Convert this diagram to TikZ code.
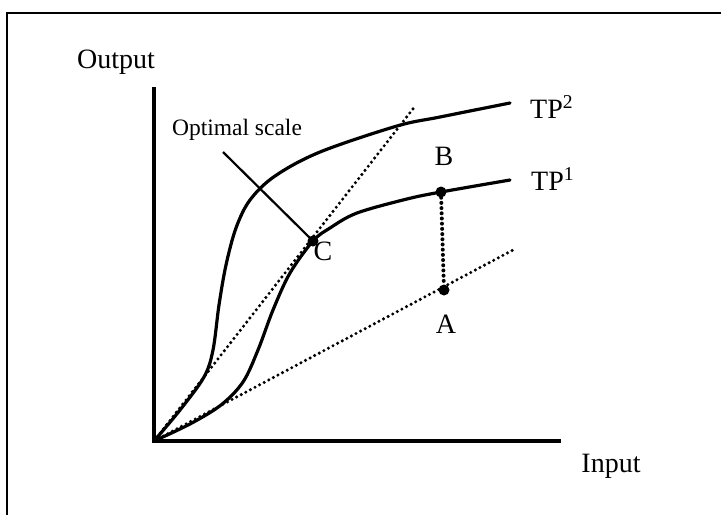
\documentclass[tikz,border=0pt]{standalone}
\usepackage{fontspec}
\setmainfont{Liberation Serif}
\begin{document}
\begin{tikzpicture}[x=1pt,y=-1pt,
  curve/.style={line width=3.2pt, line join=round, line cap=round},
  axisline/.style={line width=3.4pt},
  dots/.style={line width=3.4pt, line cap=round, dash pattern=on 0pt off 5.2pt},
  heavydots/.style={line width=4pt, line cap=round, dash pattern=on 0pt off 5.2pt},
  lbl/.style={font=\fontsize{28}{30}\selectfont, inner sep=0pt},
  smalllbl/.style={font=\fontsize{23.5}{26}\selectfont, inner sep=0pt},
  pt/.style={circle, fill=black, inner sep=0pt, minimum size=11pt}]
\useasboundingbox (0,0) rectangle (721,515);
% frame
\draw[line width=2pt] (7,515) -- (7,13) -- (721,13);
% coordinates
\coordinate (O) at (154,441);
\coordinate (ytop) at (154,87);
\coordinate (xend) at (561,441);
\coordinate (steepend) at (416,105);
\coordinate (lowend) at (513,250);
\coordinate (optstart) at (223,152);
\coordinate (tp2end) at (510,103);
\coordinate (tp1end) at (510,180);
% axes
\draw[axisline] (ytop) -- (O) -- (xend);
% dotted rays
\draw[dots] (O) -- (steepend);
\draw[dots] (O) -- (lowend);
% curves
\draw[curve] plot[smooth, tension=0.55] coordinates {(O) (180,410) (204,377) (213,350) (219,305) (226,265) (236,228) (250,200) (275,176) (320,152) (397,126) (440,117) (tp2end)};
\draw[curve] plot[smooth, tension=0.55] coordinates {(O) (190,424) (221,405) (243,382) (258,350) (273,310) (290,273) (313,241) (330,228) (357,213) (407,199) (441,192) (tp1end)};
% points
\node[pt] (C) at (313,241) {};
\node[pt] (B) at (441,192) {};
\node[pt] (A) at (444,290) {};
\draw[heavydots] (B) -- (A);
% optimal scale pointer
\draw[line width=2.2pt] (optstart) -- (C.center);
% labels
\node[lbl, anchor=base] (out) at (116,68) {Output};
\node[lbl, anchor=base] (in) at (611,472) {Input};
\node[lbl, anchor=base west] (tp2) at (530,118) {TP\textsuperscript{2}};
\node[lbl, anchor=base west] (tp1) at (531,190) {TP\textsuperscript{1}};
\node[lbl, anchor=base] (Bl) at (444,165) {B};
\node[lbl, anchor=base] (Al) at (446,333) {A};
\node[lbl, anchor=base] (Cl) at (323,260) {C};
\node[smalllbl, anchor=base] (opt) at (237,135) {Optimal scale};
\end{tikzpicture}
\end{document}
